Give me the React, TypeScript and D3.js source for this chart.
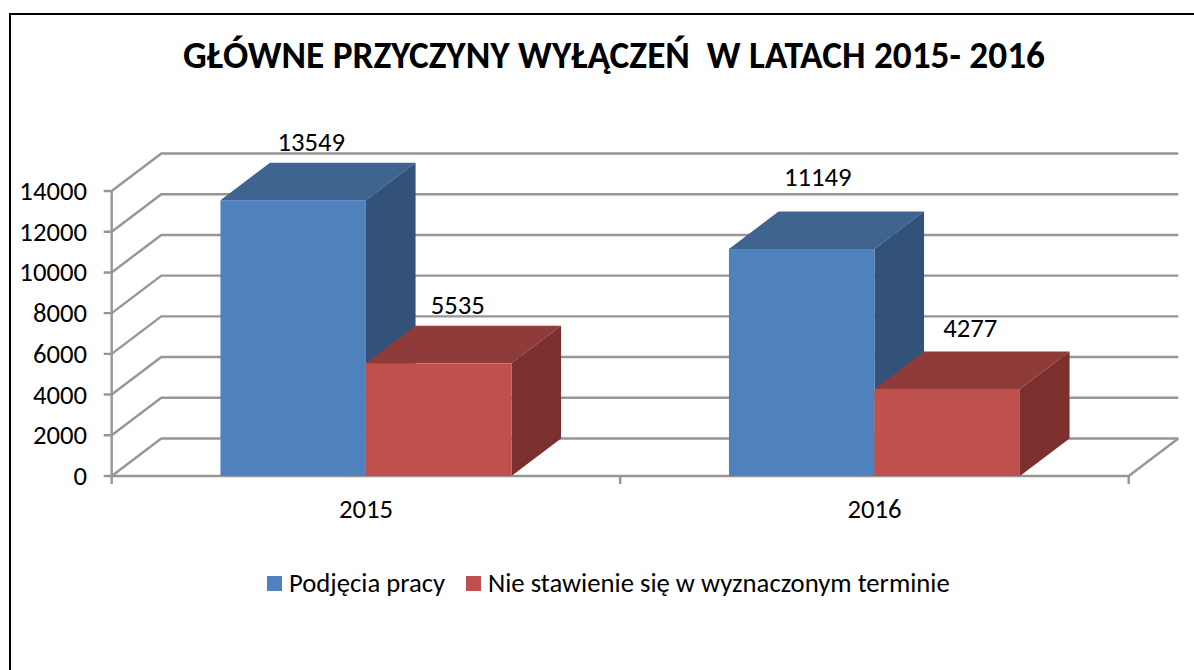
import React from "react";
import * as d3 from "d3";

const titleText = "GŁÓWNE PRZYCZYNY WYŁĄCZEŃ  W LATACH 2015- 2016";
const categories = ["2015", "2016"];
const seriesNames = ["Podjęcia pracy", "Nie stawienie się w wyznaczonym terminie"];
const podjecia = [13549, 11149];
const niestawienie = [5535, 4277];
const yTicks = [0, 2000, 4000, 6000, 8000, 10000, 12000, 14000];
const labelDy = [[-49.5, -63], [-49, -52]];
const labelDx = [[18, 16], [19, 23]];

const FONT = "Carlito, 'Open Sans', 'Noto Sans', sans-serif";
const front = ["#4F81BD", "#C0504D"];
const top = ["#3E648F", "#8F3B39"];
const side = ["#325279", "#7B302E"];
const grid = "#969696";

const DX = 49.6, DY = -37.5;
const FS = 26.7;

export default function App() {
  const x0 = d3.scaleBand<string>().domain(categories).range([111.7, 1128.7]).paddingInner(0).paddingOuter(0);
  const bandInner = 291;
  const y = d3.scaleLinear().domain([0, 14000]).range([476, 191]);
  const values = [podjecia, niestawienie];
  const [xL, xR] = x0.range();
  return (
    <svg width={1194} height={670} style={{ position: "absolute", left: 0, top: 0, background: "#fff" }}>
      <path d="M10,670 V14 H1194" fill="none" stroke="#000" strokeWidth={2} />
      <text x={614} y={68} textAnchor="middle" fontFamily={FONT} fontSize={37.3} fontWeight={700} fill="#000" style={{ whiteSpace: "pre" }}>{titleText}</text>

      {yTicks.map((t) => (
        <g key={t}>
          <path d={`M${xL - 8},${y(t)} H${xL} L${xL + DX},${y(t) + DY} H${xR + DX}`} fill="none" stroke={grid} strokeWidth={2.4} />
          <text x={87} y={y(t) + 9} textAnchor="end" fontFamily={FONT} fontSize={FS} fill="#000">{t}</text>
        </g>
      ))}
      <path d={`M${xL},${y(14000)} V${y(0)}`} stroke={grid} strokeWidth={2.4} fill="none" />
      <path d={`M${xL},${y(0)} H${xR} L${xR + DX},${y(0) + DY}`} stroke={grid} strokeWidth={2.4} fill="none" />
      {[0, 1, 2].map((i) => {
        const tx = xL + (i * (xR - xL)) / 2;
        return <path key={i} d={`M${tx},${y(0)} v8`} stroke={grid} strokeWidth={2.4} fill="none" />;
      })}

      {categories.map((c, ci) => {
        const cx = (x0(c) as number) + x0.bandwidth() / 2;
        const xb = d3.scaleBand<number>().domain([0, 1]).range([cx - bandInner / 2, cx + bandInner / 2]);
        return (
          <g key={c}>
            {[0, 1].map((s) => {
              const v = values[s][ci];
              const l = xb(s) as number, w = xb.bandwidth(), r = l + w, t = y(v), b = y(0);
              return (
                <g key={s}>
                  <path d={`M${l},${t} L${l + DX},${t + DY} H${r + DX} L${r},${t} Z`} fill={top[s]} />
                  <path d={`M${r},${t} L${r + DX},${t + DY} V${b + DY} L${r},${b} Z`} fill={side[s]} />
                  <rect x={l} y={t} width={w} height={b - t} fill={front[s]} />
                </g>
              );
            })}
            {[0, 1].map((s) => {
              const v = values[s][ci];
              const l = xb(s) as number;
              return (
                <text key={s} x={l + xb.bandwidth() / 2 + labelDx[s][ci]} y={y(v) + labelDy[s][ci]} textAnchor="middle" fontFamily={FONT} fontSize={FS} fill="#000">{v}</text>
              );
            })}
            <text x={cx} y={518} textAnchor="middle" fontFamily={FONT} fontSize={FS} fill="#000">{c}</text>
          </g>
        );
      })}

      <rect x={267} y={576} width={15} height={15} fill={front[0]} />
      <text x={289} y={592} fontFamily={FONT} fontSize={FS} fill="#000">{seriesNames[0]}</text>
      <rect x={466} y={576} width={15} height={15} fill={front[1]} />
      <text x={488} y={592} fontFamily={FONT} fontSize={FS} fill="#000">{seriesNames[1]}</text>
    </svg>
  );
}
